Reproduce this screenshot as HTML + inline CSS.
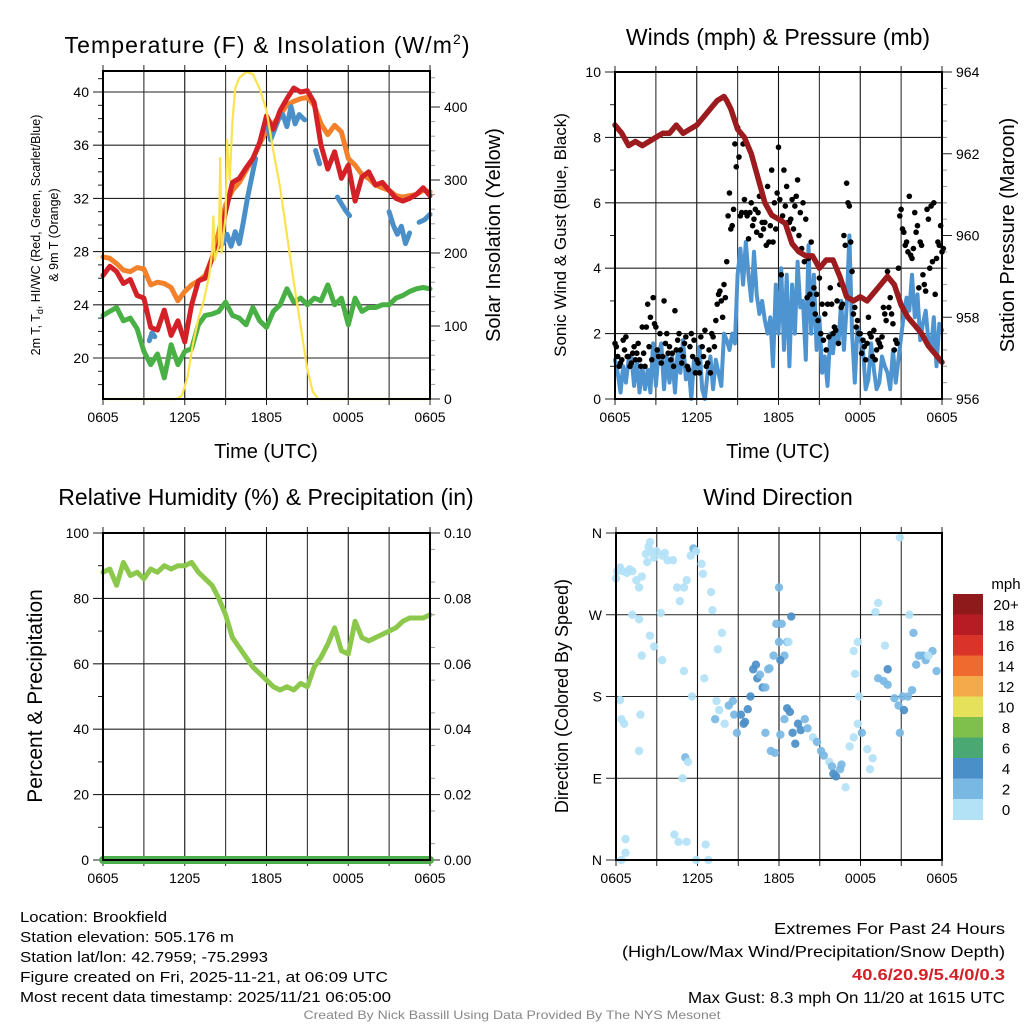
<!DOCTYPE html>
<html><head><meta charset="utf-8"><style>
html,body{margin:0;padding:0;background:#fff;}
svg{display:block;font-family:"Liberation Sans",sans-serif;}
</style></head><body>
<svg id="fig" width="1024" height="1024" viewBox="0 0 1024 1024" xmlns="http://www.w3.org/2000/svg">
<rect width="1024" height="1024" fill="#fff"/>
<g id="layer"></g>
<text x="267" y="53" font-size="23" text-anchor="middle" textLength="405">Temperature (F) &amp; Insolation (W/m<tspan dy="-9" font-size="14">2</tspan><tspan dy="9">)</tspan></text>
<text x="778" y="45" font-size="23" text-anchor="middle">Winds (mph) &amp; Pressure (mb)</text>
<text x="266" y="505" font-size="23" text-anchor="middle">Relative Humidity (%) &amp; Precipitation (in)</text>
<text x="778" y="505" font-size="23" text-anchor="middle">Wind Direction</text>
<text x="40" y="235" font-size="12.5" text-anchor="middle" transform="rotate(-90 40 235)">2m T, T<tspan dy="3" font-size="9">d</tspan><tspan dy="-3">, HI/WC (Red, Green, Scarlet/Blue)</tspan></text>
<text x="58" y="235" font-size="12.5" text-anchor="middle" transform="rotate(-90 58 235)">&amp; 9m T (Orange)</text>
<g font-size="15">
<text x="20" y="922" textLength="147" lengthAdjust="spacingAndGlyphs">Location: Brookfield</text>
<text x="20" y="942" textLength="214" lengthAdjust="spacingAndGlyphs">Station elevation: 505.176 m</text>
<text x="20" y="962" textLength="248" lengthAdjust="spacingAndGlyphs">Station lat/lon: 42.7959; -75.2993</text>
<text x="20" y="982" textLength="368" lengthAdjust="spacingAndGlyphs">Figure created on Fri, 2025-11-21, at 06:09 UTC</text>
<text x="20" y="1002" textLength="371" lengthAdjust="spacingAndGlyphs">Most recent data timestamp: 2025/11/21 06:05:00</text>
</g>
<g font-size="16" text-anchor="end">
<text x="1005" y="934" textLength="231" lengthAdjust="spacingAndGlyphs">Extremes For Past 24 Hours</text>
<text x="1005" y="957" textLength="383" lengthAdjust="spacingAndGlyphs">(High/Low/Max Wind/Precipitation/Snow Depth)</text>
<text x="1005" y="980" textLength="153" lengthAdjust="spacingAndGlyphs" fill="#d42027" font-weight="bold">40.6/20.9/5.4/0/0.3</text>
<text x="1005" y="1003" textLength="317" lengthAdjust="spacingAndGlyphs">Max Gust: 8.3 mph On 11/20 at 1615 UTC</text>
</g>
<text x="512" y="1019" font-size="12" fill="#888" text-anchor="middle" textLength="417" lengthAdjust="spacingAndGlyphs">Created By Nick Bassill Using Data Provided By The NYS Mesonet</text>
</svg>
<script>
// ---- data (hours since 0605 UTC) ----
const xTickLabels = ["0605","1205","1805","0005","0605"];
// step 0.5h
const tempRed = [26.2,26.9,26.5,25.6,25.9,24.7,24.5,22.3,22.1,23.6,21.7,22.8,21.2,24.0,25.8,26.0,27.5,28.5,31.0,33.2,33.5,34.3,35.0,36.2,38.2,37.2,38.6,39.5,40.3,40.0,40.1,39.2,36.0,34.2,35.5,33.5,34.5,31.8,33.6,34.0,33.0,33.2,32.6,32.0,31.8,32.0,32.3,32.8,32.2];
const tempOrange = [27.6,27.5,27.1,26.6,26.5,26.8,26.7,25.5,25.7,25.6,25.3,24.3,25.0,25.5,25.8,26.2,27.5,29.5,31.5,32.6,33.2,34.1,35.0,36.1,37.1,37.6,38.3,39.0,39.3,39.5,39.6,39.0,37.6,36.8,37.5,37.0,35.0,34.5,33.8,33.5,33.0,32.8,32.6,32.2,32.1,32.2,32.3,32.6,32.5];
const tempGreen = [23.2,23.5,23.8,22.8,23.0,22.2,20.5,19.5,20.3,18.5,21.0,19.5,20.5,20.7,22.5,23.2,23.3,23.5,24.2,23.2,23.0,22.5,23.8,22.8,22.3,23.5,24.0,25.2,24.2,24.5,24.0,24.5,24.3,25.5,24.0,24.5,22.5,24.5,23.5,23.8,23.8,24.0,24.0,24.5,24.7,25.0,25.2,25.3,25.2];
const chillSegments = [
 [[3.4,21.3],[3.6,21.9],[3.8,21.6]],
 [[8.8,28.6],[9.1,29.3],[9.4,28.4],[9.7,29.5],[10.0,28.6],[10.3,30.2],[10.6,32.0],[10.9,33.5],[11.2,35.0]],
 [[12.0,37.8],[12.3,36.4],[12.6,37.2],[12.9,38.0],[13.2,38.3],[13.5,37.4],[13.8,38.9],[14.1,37.6],[14.4,38.3],[14.8,37.9]],
 [[15.6,35.6],[15.9,34.6]],
 [[17.2,32.1],[17.5,31.6],[17.8,31.1],[18.1,30.7]],
 [[21.0,31.0],[21.3,30.0],[21.6,29.3],[21.9,29.9],[22.2,28.6],[22.5,29.4]],
 [[23.2,30.2],[23.6,30.4],[24.0,30.8]]
];
const solarHours = [0,5.4,5.8,6.2,6.6,7.0,7.4,7.8,8.0,8.1,8.2,8.5,8.6,8.7,9.0,9.1,9.3,9.5,9.7,10.0,10.5,11.0,11.5,12.0,12.5,13.0,13.5,14.0,14.5,15.0,15.4,15.8,24];
const solarValues = [0,0,5,30,75,110,135,170,200,250,190,210,330,200,250,355,300,380,425,440,448,445,425,395,340,290,225,160,100,40,10,0,0];
const windSpeed = [1.2,0.8,0.2,1.0,0.5,1.2,1.3,0.4,1.2,0.2, 1.0,0.3,0.9,0.2,1.7,0.4,1.4,1.7,0.3,1.3, 0.5,1.3,0.2,1.5,0.8,1.8,0.6,1.0,0.0,1.2, 0.8,1.6,0.3,0.0,0.8,1.3,0.3,1.2,0.8,0.4, 2.0,1.8,1.5,2.0,1.7,3.8,4.6,3.5,4.8,3.8, 3.0,4.5,3.2,2.6,3.0,2.4,2.0,2.5,1.0,3.5, 2.0,4.0,1.5,3.8,1.0,3.5,2.0,4.2,2.8,3.0, 1.2,4.7,2.0,3.8,1.5,2.5,0.8,1.3,0.4,2.0, 1.4,2.2,1.7,3.0,1.5,2.8,5.0,2.0,0.5,2.2, 1.8,1.5,0.3,0.6,1.7,0.9,0.3,0.5,1.3,1.0, 0.8,0.3,1.5,0.5,1.2,1.9,2.6,3.1,2.7,3.8, 2.5,3.2,1.8,2.3,2.7,1.8,1.5,2.5,1.0,2.3,2.1];
const windGust = [1.7,1.3,1.1,1.8,1.9,1.3,1.1,1.6,1.4,1.2, 2.2,1.0,2.9,2.5,3.1,2.2,1.3,1.1,3.0,2.0, 1.6,1.4,2.7,1.8,1.5,1.3,1.9,0.9,2.0,1.8, 1.2,0.8,1.6,2.1,1.1,0.8,1.9,2.4,3.2,3.0, 3.5,4.2,6.3,5.3,7.8,8.3,5.6,7.8,5.7,4.9, 6.0,5.5,5.1,6.2,5.4,5.4,6.5,5.3,4.8,5.2, 7.7,3.8,7.0,6.5,5.4,6.1,5.9,6.7,5.7,6.0, 5.5,4.3,4.8,3.4,3.2,3.7,2.9,2.6,2.9,3.4, 2.0,2.1,1.7,2.8,5.0,6.6,5.9,3.9,2.8,2.4, 2.0,1.8,1.2,2.5,1.9,2.1,1.5,1.7,1.9,2.6, 3.9,3.1,2.3,1.8,4.0,5.8,5.1,4.8,6.2,4.3, 5.7,5.3,4.8,3.8,3.3,5.5,5.9,6.0,4.3,4.7,4.5];
const windGust2 = [1.6,1.0,1.2,1.5,1.3,1.0,1.4,1.2,1.7,1.0, 1.4,2.2,1.6,1.2,2.3,1.5,2.0,1.3,1.7,1.4, 1.2,1.0,1.5,2.0,1.1,1.7,1.0,1.6,1.3,0.8, 1.1,1.9,1.3,1.0,1.5,2.0,1.6,2.9,3.3,2.5, 3.1,5.6,5.2,5.8,7.1,7.4,5.7,6.1,5.6,5.7, 5.3,5.8,5.7,5.0,5.2,4.7,4.8,7.0,6.0,6.3, 6.1,5.6,5.9,5.4,5.5,5.2,6.2,5.0,4.6,4.2, 3.1,3.2,2.9,2.6,2.4,2.0,1.8,1.5,1.9,2.9, 2.2,3.0,3.5,2.9,4.7,6.0,4.8,2.6,2.2,2.0, 1.4,1.6,1.7,2.0,1.3,1.2,1.8,1.6,2.8,2.4, 2.8,2.6,1.5,1.7,5.6,5.2,4.7,4.5,4.4,4.6, 5.1,3.4,4.7,3.5,5.8,4.0,4.2,3.2,4.8,5.3,4.6];
const pressureHours = [0,0.5,1,1.5,2,2.5,3,3.5,4,4.5,5,5.5,6,6.5,7,7.5,8,8.2,8.5,9,9.5,10,10.5,11,11.5,12,12.5,13,13.5,14,14.5,15,15.5,16,16.5,17,17.5,18,18.5,19,19.5,20,20.5,21,21.5,22,22.5,23,23.5,24];
const pressureValues = [962.7,962.5,962.2,962.3,962.2,962.3,962.4,962.5,962.5,962.7,962.5,962.6,962.7,962.9,963.1,963.3,963.4,963.3,963.1,962.6,962.4,962.0,961.4,960.8,960.5,960.4,960.3,959.8,959.6,959.5,959.5,959.2,959.4,959.4,959.0,958.5,958.4,958.5,958.4,958.6,958.8,959.0,958.8,958.3,958.0,957.8,957.6,957.3,957.1,956.9];
const rhValues = [88,89,84,91,87,88,86,89,88,90,89,90,90,91,88,86,84,80,75,68,65,62,59,57,55,53,52,53,52,54,53,59,62,66,71,64,63,73,68,67,68,69,70,71,73,74,74,74,75];
const precipValue = 0;
const dirHours = [0,0.1,0.3,0.5,0.8,1,1.2,1.5,1.7,1.9,2.2,2.4,2.5,2.3,2.6,2.8,3.0,3.4,3.6,3.8,4.2,4.5,4.7,5,5.2,5.5,5.7,5.9,6.3,6.4,7,7.1,1.2,1.7,2.5,2.8,3.3,1.9,3.4,5,6.5,5.6,0.3,0.4,0.6,1.8,1.7,5.1,5.3,4.9,0.7,0.7,0.4,4.3,4.6,5.2,5.9,6.6,6.8,
 7.5,7.8,7.4,7.6,7.3,8.0,8.3,8.6,8.7,8.9,9.2,9.4,9.7,9.5,9.9,10.1,10.3,10.4,10.6,10.8,11.0,11.3,11.6,11.8,12.0,12.2,12.4,12.6,12.9,12.7,11.2,12.0,12.1,11.4,11.7,11.0,12.1,12.4,12.6,12.8,13.0,13.2,13.4,13.6,13.9,14.1,14.5,14.8,15.1,15.3,15.7,15.9,16.0,16.2,16.5,16.6,16.9,17.2,17.5,17.8,18.1,17.5,17.8,17.6,17.9,18.7,18.9,18.5,19.3,19.1,19.3,19.7,20.0,20.0,20.5,20.8,21.1,21.2,20.9,21.5,21.8,22.1,22.3,22.6,22.8,23.3,23.6,23.0,21.6,21.9,19.8,20.9];
const dirDegrees = [310,318,322,318,316,320,318,308,300,312,337,345,350,328,340,333,340,335,338,330,330,300,285,300,308,335,343,340,326,315,295,275,270,265,247,235,272,225,220,208,200,180,176,155,150,160,120,113,108,90,23,8,0,28,20,20,0,17,0,
 232,250,175,165,155,150,170,175,160,140,160,150,166,152,180,210,215,200,204,190,190,211,225,260,240,260,225,240,268,240,210,300,220,120,118,140,138,155,167,163,140,128,150,143,155,145,135,130,120,115,108,103,95,92,100,105,80,125,135,150,140,230,240,205,180,100,112,122,283,273,200,197,193,210,178,170,180,165,140,180,187,215,225,225,220,230,208,225,270,250,236,355];
const dirSpeedBins = [0,0,0,0,0,0,0,0,0,0,0,0,0,0,0,0,0,0,0,0,0,0,0,0,0,0,2,0,0,0,0,0,0,0,0,0,0,0,0,0,0,0,0,0,0,0,0,2,0,0,0,0,0,0,0,0,0,0,0,
 0,0,0,0,2,0,2,2,2,2,4,4,4,4,4,4,4,4,2,4,2,2,2,2,2,2,2,2,4,0,2,2,4,2,2,2,2,2,4,4,4,4,4,4,2,2,0,2,2,2,0,2,4,4,2,2,0,0,0,0,2,0,0,0,0,0,0,0,0,0,2,2,2,4,2,2,2,4,2,2,2,2,2,2,2,2,2,0,0,2,0,0];
const legendLabels = ["20+","18","16","14","12","10","8","6","4","2","0"];
const legendColors = ["#8e1a1c","#b71c24","#d9332a","#ee6a2f","#f4a94a","#e6e15b","#7ec04b","#4aa872","#4a8fc8","#7ab8e4","#b3e2f7"];
const binColor = {0:"#b3e2f7",2:"#7ab8e4",4:"#4a8fc8"};

const NS="http://www.w3.org/2000/svg";
const layer=document.getElementById('layer');
function mk(tag,attrs,parent){const e=document.createElementNS(NS,tag);for(const k in attrs)e.setAttribute(k,attrs[k]);(parent||layer).appendChild(e);return e;}
function txt(x,y,s,size,anchor,parent,extra){const t=mk('text',Object.assign({x:x,y:y,'font-size':size,'text-anchor':anchor||'middle'},extra||{}),parent);t.textContent=s;return t;}
function lin(d0,d1,r0,r1){return v=>r0+(v-d0)/(d1-d0)*(r1-r0);}

function panel(name,L,R,T,B){
  const g=mk('g',{});
  
  
  return {g:g,L:L,R:R,T:T,B:B,x:lin(0,24,L,R)};
}
function grid(p,yTicks,yScale,labels,minor){
  const gg=mk('g',{},p.g);
  
  
  for(let i=1;i<8;i++){const X=p.x(i*3);mk('line',{x1:X,x2:X,y1:p.T,y2:p.B,stroke:i%2?'#333':'#111','stroke-width':1.1},gg);}
  yTicks.forEach((v,i)=>{const Y=yScale(v);
    mk('line',{x1:p.L-10,x2:p.R,y1:Y,y2:Y,stroke:'#222','stroke-width':1.1},gg);
    const t=txt(p.L-14,Y+5,labels[i],14,'end',gg);
    
    
  });
  if(minor)minor.forEach(v=>{const Y=yScale(v);mk('line',{x1:p.L-5,x2:p.L,y1:Y,y2:Y,stroke:'#222'},gg);});
  for(let i=0;i<=8;i++){const X=p.x(i*3);mk('line',{x1:X,x2:X,y1:p.B,y2:p.B+6,stroke:'#222'},gg);mk('line',{x1:X,x2:X,y1:p.T-6,y2:p.T,stroke:'#222'},gg);}
  xTickLabels.forEach((s,i)=>{const t=txt(p.x(i*6),p.B+23,s,14,'middle',gg);
    
    });
}
function frame(p){mk('rect',{x:p.L,y:p.T,width:p.R-p.L,height:p.B-p.T,fill:'none',stroke:'#000','stroke-width':2},p.g);}
function rightAxis(p,ticks,scale,labels,minor){
  ticks.forEach((v,i)=>{const Y=scale(v);mk('line',{x1:p.R,x2:p.R+10,y1:Y,y2:Y,stroke:'#222'},p.g);
    const t=txt(p.R+14,Y+5,labels[i],14,'start',p.g);
    
    });
  minor.forEach(v=>{const Y=scale(v);mk('line',{x1:p.R,x2:p.R+5,y1:Y,y2:Y,stroke:'#999'},p.g);});
}
function path(pts,color,w,parent,name){
  const d=pts.map((q,i)=>(i?'L':'M')+q[0].toFixed(1)+','+q[1].toFixed(1)).join('');
  const e=mk('path',{d:d,fill:'none',stroke:color,'stroke-width':w,'stroke-linejoin':'round','stroke-linecap':'round'},parent);
  
  
  return e;
}
function vtitle(x,y,s,size,parent,name){const t=txt(x,y,s,size,'middle',parent,{transform:`rotate(-90 ${x} ${y})`});return t;}

{
  const p=panel('temperature-panel',103,430,71,399);
  const y=lin(20,40,358,92), yr=lin(0,400,399,107);
  grid(p,[20,24,28,32,36,40],y,["20","24","28","32","36","40"],[18,19,21,22,23,25,26,27,29,30,31,33,34,35,37,38,39,41]);
  rightAxis(p,[0,100,200,300,400],yr,["0","100","200","300","400"],[20,40,60,80,120,140,160,180,220,240,260,280,320,340,360,380,420,440]);
  path(tempOrange.map((v,i)=>[p.x(i*0.5),y(v)]),'#f3802a',5,p.g,'9m-temp-line');
  chillSegments.forEach(s=>path(s.map(q=>[p.x(q[0]),y(q[1])]),'#4a8fc8',5,p.g,'heat-index-wind-chill-line'));
  path(tempRed.map((v,i)=>[p.x(i*0.5),y(v)]),'#d42027',5,p.g,'2m-temp-line');
  path(tempGreen.map((v,i)=>[p.x(i*0.5),y(v)]),'#49b045',5,p.g,'dewpoint-line');
  path(solarHours.map((h,i)=>[p.x(h),yr(solarValues[i])]),'#fce34d',2.2,p.g,'solar-insolation-line');
  frame(p);
  const t1=txt(266,458,'Time (UTC)',20,'middle',p.g);
  vtitle(500,235,'Solar Insolation (Yellow)',20,p.g,'right-axis-title');
}
{
  const p=panel('winds-panel',615,942,72,399);
  const y=lin(0,10,399,72), yr=lin(956,964,399,72);
  grid(p,[0,2,4,6,8,10],y,["0","2","4","6","8","10"],[1,3,5,7,9]);
  rightAxis(p,[956,958,960,962,964],yr,["956","958","960","962","964"],[956.4,956.8,957.2,957.6,958.4,958.8,959.2,959.6,960.4,960.8,961.2,961.6,962.4,962.8,963.2,963.6]);
  path(windSpeed.map((v,i)=>[p.x(i*0.2),y(v)]),'#4d94d0',4,p.g,'sonic-wind-line');
  const dg=mk('g',{},p.g);
  windGust.forEach((v,i)=>{const c=mk('circle',{cx:p.x(i*0.2),cy:y(v),r:2.8,fill:'#000'},dg);});
  windGust2.forEach((v,i)=>{const c=mk('circle',{cx:p.x(i*0.2+0.1),cy:y(v),r:2.8,fill:'#000'},dg);});
  path(pressureHours.map((h,i)=>[p.x(h),yr(pressureValues[i])]),'#9b1b1e',5.5,p.g,'pressure-line');
  frame(p);
  const t1=txt(778,458,'Time (UTC)',20,'middle',p.g);
  vtitle(566,235,'Sonic Wind & Gust (Blue, Black)',17,p.g,'y-axis-title');
  vtitle(1014,235,'Station Pressure (Maroon)',20,p.g,'right-axis-title');
}
{
  const p=panel('humidity-panel',103,430,533,860);
  const y=lin(0,100,860,533), yr=lin(0,0.1,860,533);
  grid(p,[0,20,40,60,80,100],y,["0","20","40","60","80","100"],[10,30,50,70,90]);
  rightAxis(p,[0,0.02,0.04,0.06,0.08,0.1],yr,["0.00","0.02","0.04","0.06","0.08","0.10"],[0.005,0.015,0.025,0.035,0.045,0.055,0.065,0.075,0.085,0.095]);
  path(rhValues.map((v,i)=>[p.x(i*0.5),y(v)]),'#8cc84b',5,p.g,'rh-line');
  path([[p.x(0),yr(precipValue)],[p.x(24),yr(precipValue)]],'#4cae4c',8,p.g,'precip-line');
  frame(p);
  vtitle(42,696,'Percent & Precipitation',21,p.g,'y-axis-title');
}
{
  const p=panel('wind-direction-panel',616,942,533,860);
  const y=lin(0,360,860,533);
  grid(p,[0,90,180,270,360],y,["N","E","S","W","N"],null);
  const dg=mk('g',{},p.g);
  dirHours.forEach((h,i)=>{const c=mk('circle',{cx:p.x(h),cy:y(dirDegrees[i]),r:4.2,fill:binColor[dirSpeedBins[i]],'fill-opacity':0.92},dg);
    
    });
  frame(p);
  vtitle(568,696,'Direction (Colored By Speed)',18,p.g,'y-axis-title');
  const lg=mk('g',{},p.g);
  txt(1006,589,'mph',15,'middle',lg);
  legendColors.forEach((c,i)=>{const r=mk('rect',{x:953,y:594+i*20.5,width:30,height:21,fill:c},lg);
    const t=txt(1006,610+i*20.5,legendLabels[i],15,'middle',lg);});
}
</script>
</body></html>
